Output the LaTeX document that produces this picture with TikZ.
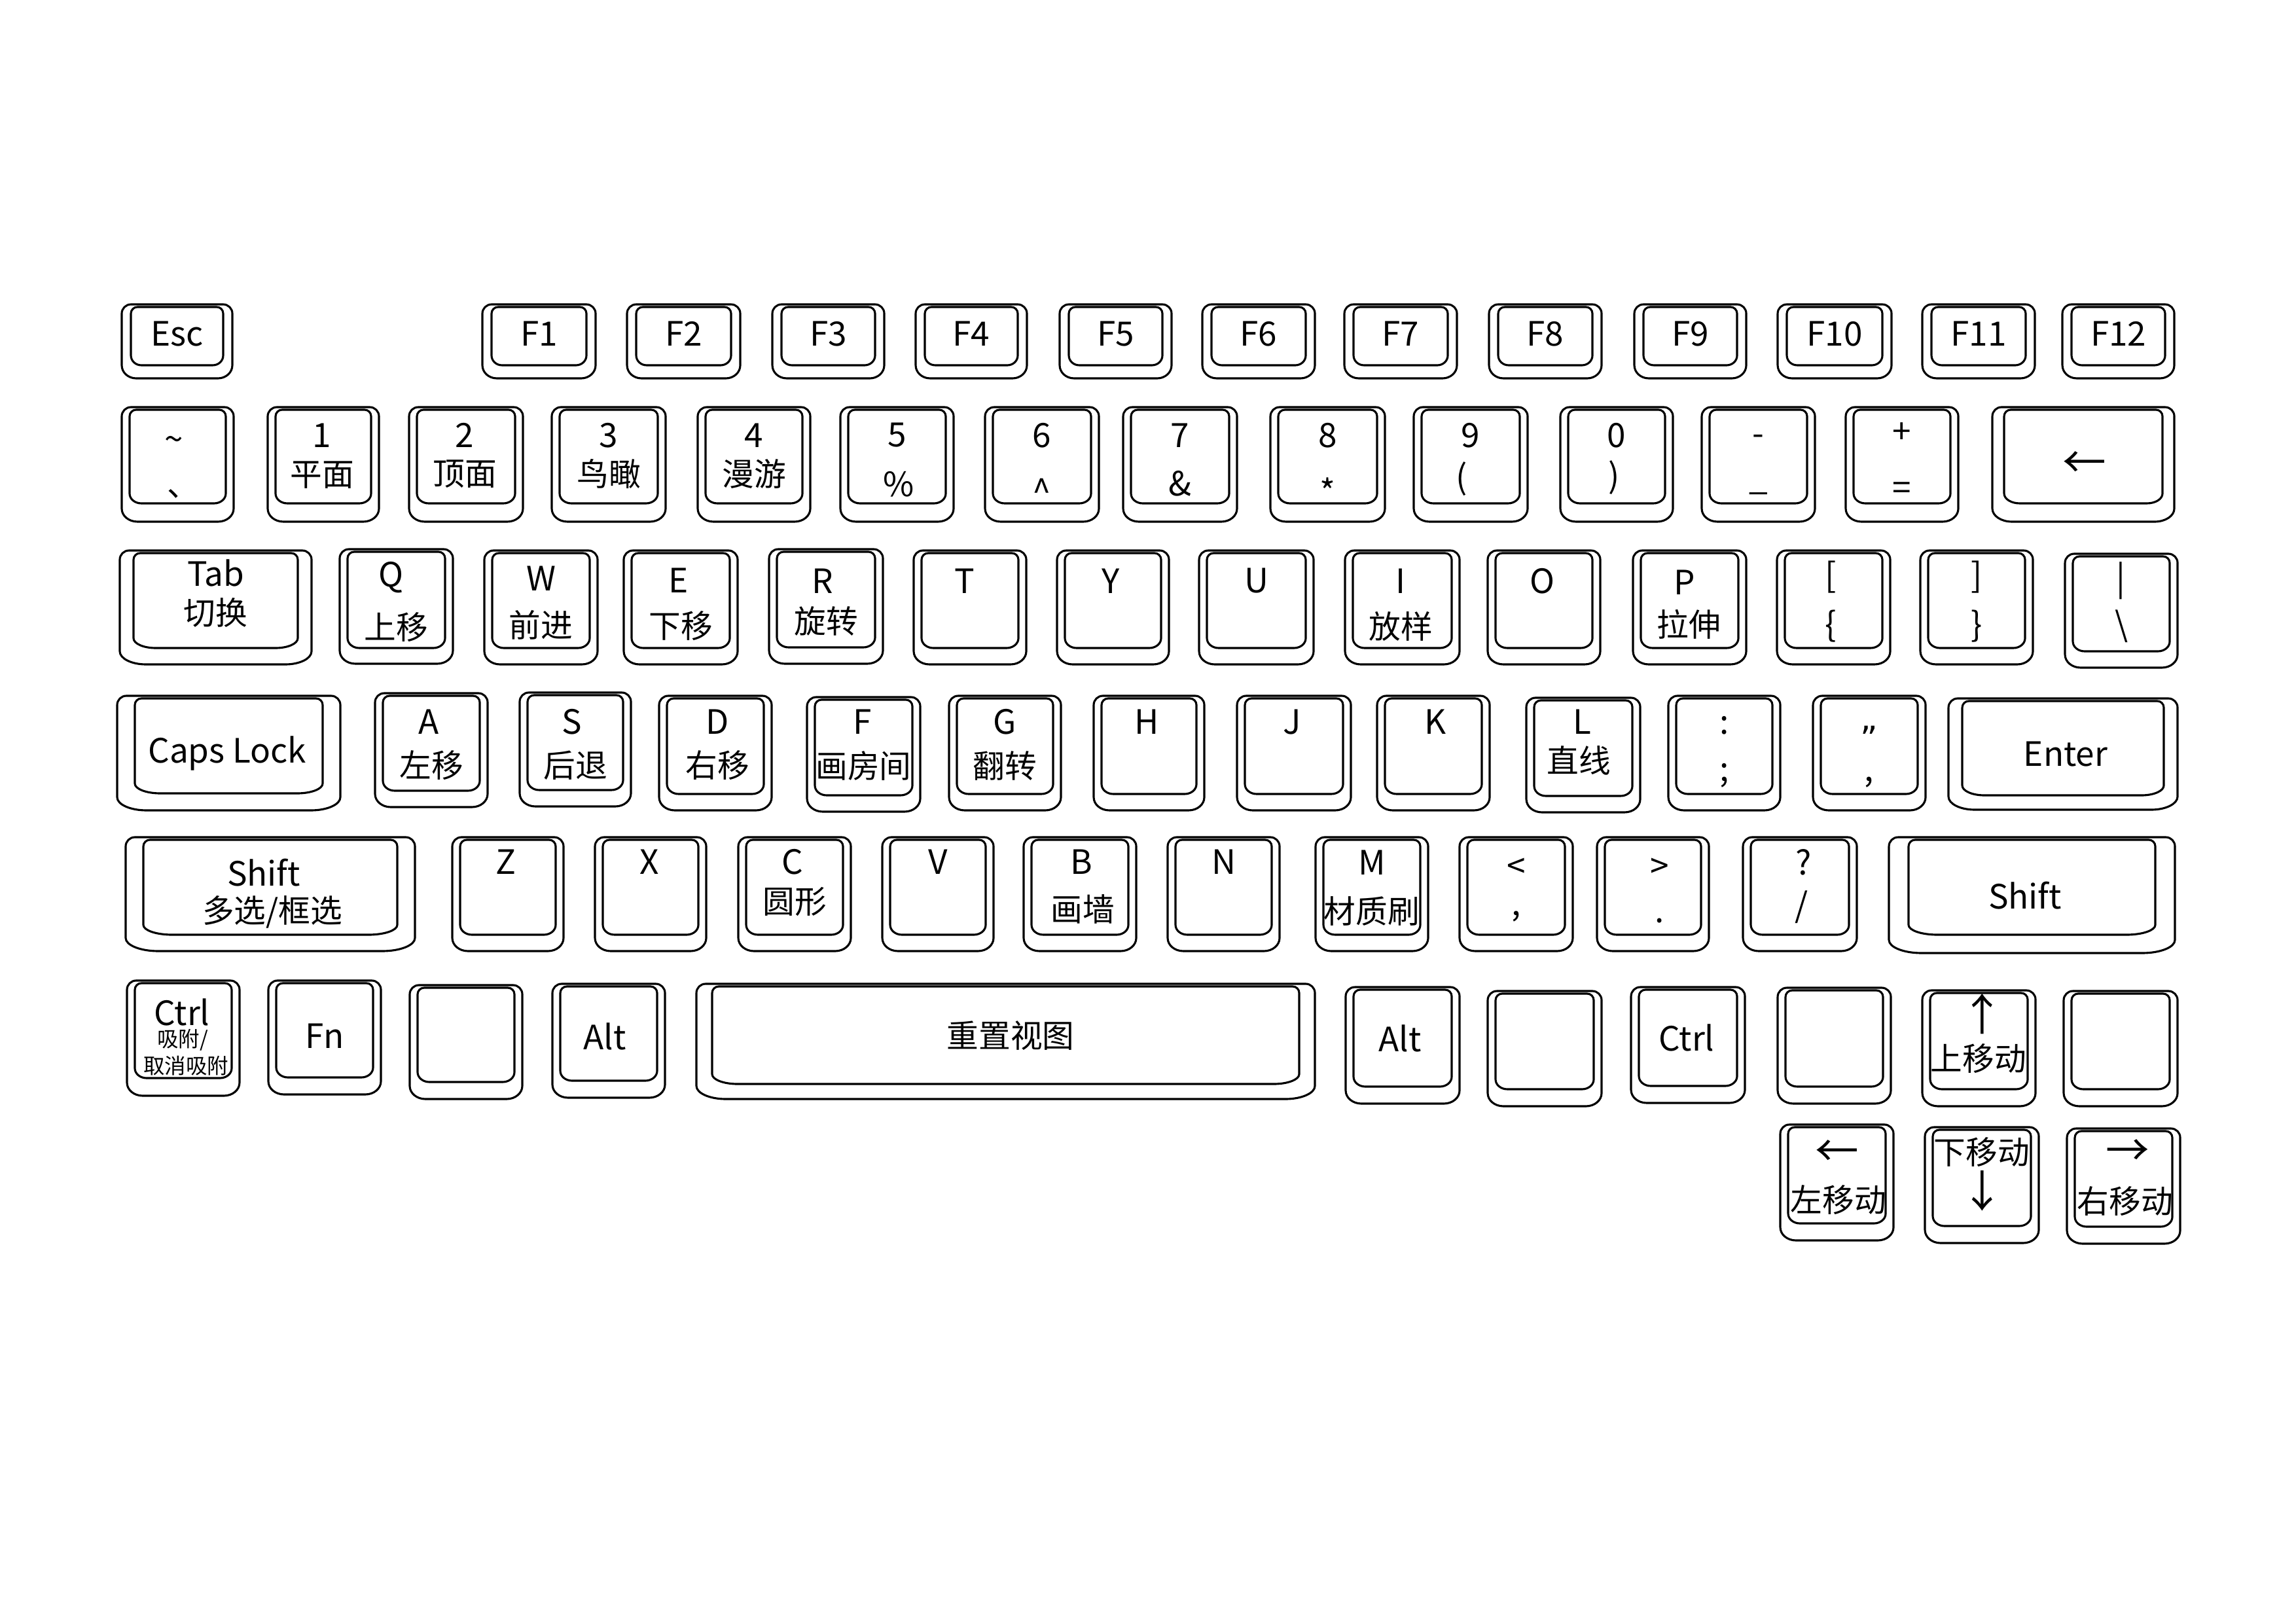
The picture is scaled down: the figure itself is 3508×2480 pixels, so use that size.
\documentclass[tikz,border=0pt]{standalone}
\usepackage{fontspec}
\setmainfont{Noto Sans CJK SC}
\newfontfamily\quotefont{DejaVu Sans}
% #1 x1, #2 y1, #3 x2, #4 y2 (pixels, y downward), #5 side inset, #6 bottom inset, #7 bottom x-radius
\newcommand\kbkey[7]{%
  \draw[keyline] ({#1+14},{-(#2)}) -- ({#3-14},{-(#2)})
    arc[start angle=90,end angle=0,radius=14]
    -- ({#3},{-(#4)+20})
    arc[start angle=0,end angle=-90,x radius=#7,y radius=20]
    -- ({#1+#7},{-(#4)})
    arc[start angle=270,end angle=180,x radius=#7,y radius=20]
    -- ({#1},{-(#2)-14})
    arc[start angle=180,end angle=90,radius=14] -- cycle;
  \draw[keyline] ({#1+#5+10},{-(#2)-4}) -- ({#3-#5-10},{-(#2)-4})
    arc[start angle=90,end angle=0,radius=10]
    -- ({#3-#5},{-(#4)+#6+15})
    arc[start angle=0,end angle=-90,x radius=#7-6,y radius=15]
    -- ({#1+#5+#7-6},{-(#4)+#6})
    arc[start angle=270,end angle=180,x radius=#7-6,y radius=15]
    -- ({#1+#5},{-(#2)-14})
    arc[start angle=180,end angle=90,radius=10] -- cycle;
}
\newcommand\lab[5]{\node[#2] (#1) at (#3,{-(#4)}) {#5};}
\begin{document}
\begin{tikzpicture}[x=0.24019pt,y=0.24019pt,
  keyline/.style={draw=black,line width=0.75pt,fill=white,line join=round},
  lat/.style={font=\fontsize{12.3}{14}\selectfont,inner sep=0pt},
  cjk/.style={font=\fontsize{11.7}{14}\selectfont,inner sep=0pt},
  sml/.style={font=\fontsize{7.8}{9}\selectfont,inner sep=0pt},
  arw/.style={font=\fontsize{16}{18}\selectfont,inner sep=0pt}]
\useasboundingbox (0,0) rectangle (3508,-2480);

% ---------- row 0 ----------
\kbkey{186}{465}{355}{578}{14}{20}{22}   \lab{tEsc}{lat}{270.5}{510}{Esc}
\kbkey{737}{465}{910}{578}{14}{20}{22}   \lab{tF1}{lat}{823.5}{510}{F1}
\kbkey{958}{465}{1131}{578}{14}{20}{22}  \lab{tF2}{lat}{1044.5}{510}{F2}
\kbkey{1180}{465}{1351}{578}{14}{20}{22} \lab{tF3}{lat}{1265.5}{510}{F3}
\kbkey{1399}{465}{1569}{578}{14}{20}{22} \lab{tF4}{lat}{1484}{510}{F4}
\kbkey{1619}{465}{1790}{578}{14}{20}{22} \lab{tF5}{lat}{1704.5}{510}{F5}
\kbkey{1837}{465}{2009}{578}{14}{20}{22} \lab{tF6}{lat}{1923}{510}{F6}
\kbkey{2054}{465}{2226}{578}{14}{20}{22} \lab{tF7}{lat}{2140}{510}{F7}
\kbkey{2275}{465}{2447}{578}{14}{20}{22} \lab{tF8}{lat}{2361}{510}{F8}
\kbkey{2497}{465}{2668}{578}{14}{20}{22} \lab{tF9}{lat}{2582.5}{510}{F9}
\kbkey{2716}{465}{2890}{578}{14}{20}{22} \lab{tF10}{lat}{2803}{510}{F10}
\kbkey{2937}{465}{3109}{578}{14}{20}{22} \lab{tF11}{lat}{3023}{510}{F11}
\kbkey{3151}{465}{3322}{578}{14}{20}{22} \lab{tF12}{lat}{3236.5}{510}{F12}

% ---------- row 1 ----------
\kbkey{186}{622}{357}{797}{12}{28}{24}
\lab{tTa}{lat}{266}{678}{\textasciitilde} \lab{tTb}{cjk}{280}{754}{、}
\kbkey{409}{622}{579}{797}{12}{28}{24}
\lab{t1a}{lat}{492}{665}{1} \lab{t1b}{cjk}{492}{726}{平面}
\kbkey{625}{622}{799}{797}{12}{28}{24}
\lab{t2a}{lat}{710}{665}{2} \lab{t2b}{cjk}{710}{724}{顶面}
\kbkey{843}{622}{1017}{797}{12}{28}{24}
\lab{t3a}{lat}{930}{665}{3} \lab{t3b}{cjk}{930}{724}{鸟瞰}
\kbkey{1066}{622}{1238}{797}{12}{28}{24}
\lab{t4a}{lat}{1152}{665}{4} \lab{t4b}{cjk}{1152}{724}{漫游}
\kbkey{1284}{622}{1457}{797}{12}{28}{24}
\lab{t5a}{lat}{1370.5}{665}{5} \lab{t5b}{lat}{1373}{740}{\%}
\kbkey{1505}{622}{1679}{797}{12}{28}{24}
\lab{t6a}{lat}{1592}{665}{6} \lab{t6b}{lat}{1592}{750}{\textasciicircum}
\kbkey{1716}{622}{1890}{797}{12}{28}{24}
\lab{t7a}{lat}{1803}{665}{7} \lab{t7b}{lat}{1803}{739}{\&}
\kbkey{1941}{622}{2116}{797}{12}{28}{24}
\lab{t8a}{lat}{2028.5}{665}{8} \lab{t8b}{lat}{2028.5}{750}{*}
\kbkey{2160}{622}{2334}{797}{12}{28}{24}
\lab{t9a}{lat}{2247}{665}{9} \lab{t9b}{lat}{2233}{732}{(}
\kbkey{2384}{622}{2556}{797}{12}{28}{24}
\lab{t0a}{lat}{2470}{665}{0} \lab{t0b}{lat}{2466}{730}{)}
\kbkey{2600}{622}{2773}{797}{12}{28}{24}
\lab{tMa}{lat}{2686.5}{672}{-} \lab{tMb}{lat}{2686.5}{752}{\_}
\kbkey{2820}{622}{2992}{797}{12}{28}{24}
\lab{tPa}{lat}{2906}{662}{+} \lab{tPb}{lat}{2906}{750}{=}
\kbkey{3044}{622}{3322}{797}{18}{28}{30}
\lab{tBk}{arw}{3185}{710}{←}

% ---------- row 2 ----------
\kbkey{183}{841}{476}{1015}{21}{25}{40}
\lab{tTab}{lat}{329.5}{875}{Tab} \lab{tTabb}{cjk}{329.5}{936}{切换}
\kbkey{519}{839}{692}{1014}{12}{24}{24}
\lab{tQ}{lat}{597}{882}{Q} \lab{tQb}{cjk}{605.5}{958}{上移}
\kbkey{740}{841}{913}{1015}{12}{25}{24}
\lab{tW}{lat}{826.5}{884}{W} \lab{tWb}{cjk}{826.5}{955}{前进}
\kbkey{953}{841}{1127}{1015}{12}{25}{24}
\lab{tE}{lat}{1037}{887}{E} \lab{tEb}{cjk}{1040}{956}{下移}
\kbkey{1175}{839}{1349}{1014}{12}{25}{24}
\lab{tR}{lat}{1257}{888}{R} \lab{tRb}{cjk}{1262}{949}{旋转}
\kbkey{1396}{841}{1568}{1015}{12}{25}{24} \lab{tT}{lat}{1474}{888}{T}
\kbkey{1615}{841}{1786}{1015}{12}{25}{24} \lab{tY}{lat}{1697}{888}{Y}
\kbkey{1832}{841}{2007}{1015}{12}{25}{24} \lab{tU}{lat}{1919.5}{887}{U}
\kbkey{2055}{841}{2230}{1015}{12}{25}{24}
\lab{tI}{lat}{2140}{888}{I} \lab{tIb}{cjk}{2140}{957}{放样}
\kbkey{2273}{841}{2445}{1015}{12}{25}{24} \lab{tO}{lat}{2356}{888}{O}
\kbkey{2495}{841}{2668}{1015}{12}{25}{24}
\lab{tP}{lat}{2574}{890}{P} \lab{tPbb}{cjk}{2580}{954}{拉伸}
\kbkey{2715}{841}{2888}{1015}{12}{25}{24}
\lab{tLb}{lat}{2797}{882}{[} \lab{tLbb}{lat}{2797}{957}{\{}
\kbkey{2934}{841}{3106}{1015}{12}{25}{24}
\lab{tRbk}{lat}{3020}{882}{]} \lab{tRbkb}{lat}{3020}{957}{\}}
\kbkey{3155}{846}{3327}{1020}{12}{25}{24}
\lab{tBar}{lat}{3240}{887}{|} \lab{tBs}{lat}{3241}{957}{\textbackslash}

% ---------- row 3 ----------
\kbkey{179}{1063}{520}{1238}{27}{26}{45}
\node[lat,anchor=base] (tCaps) at (347,-1165) {Caps Lock};
\kbkey{573}{1059}{745}{1233}{12}{25}{24}
\lab{tA}{lat}{655}{1103}{A} \lab{tAb}{cjk}{659}{1169}{左移}
\kbkey{794}{1058}{964}{1232}{12}{25}{24}
\lab{tS}{lat}{874}{1103}{S} \lab{tSb}{cjk}{879}{1169}{后退}
\kbkey{1007}{1063}{1179}{1238}{12}{25}{24}
\lab{tD}{lat}{1096}{1103}{D} \lab{tDb}{cjk}{1096}{1169}{右移}
\kbkey{1233}{1065}{1406}{1240}{12}{25}{24}
\lab{tF}{lat}{1318}{1103}{F} \lab{tFb}{cjk}{1319.5}{1170}{画房间}
\kbkey{1450}{1063}{1621}{1238}{12}{25}{24}
\lab{tG}{lat}{1535.5}{1103}{G} \lab{tGb}{cjk}{1535.5}{1170}{翻转}
\kbkey{1671}{1063}{1840}{1238}{12}{25}{24} \lab{tH}{lat}{1752}{1103}{H}
\kbkey{1890}{1063}{2064}{1238}{12}{25}{24} \lab{tJ}{lat}{1974}{1103}{J}
\kbkey{2104}{1063}{2276}{1238}{12}{25}{24} \lab{tK}{lat}{2193}{1103}{K}
\kbkey{2332}{1066}{2506}{1241}{12}{25}{24}
\lab{tL}{lat}{2417}{1103}{L} \lab{tLbx}{cjk}{2412}{1162}{直线}
\kbkey{2549}{1063}{2720}{1238}{12}{25}{24}
\lab{tCol}{lat}{2634.5}{1108}{:} \lab{tSemi}{lat}{2634.5}{1185}{;}
\kbkey{2770}{1063}{2942}{1238}{12}{25}{24}
\lab{tQuo}{lat}{2856}{1115}{\quotefont „} \lab{tApo}{lat}{2856}{1195}{,}
\kbkey{2977}{1067}{3327}{1237}{21}{22}{40}
\lab{tEnter}{lat}{3156}{1152}{Enter}

% ---------- row 4 ----------
\kbkey{192}{1279}{634}{1453}{27}{25}{50}
\lab{tLSh}{lat}{403}{1333}{Shift} \lab{tLShb}{cjk}{416}{1393}{多选/框选}
\kbkey{691}{1279}{861}{1453}{12}{25}{24} \lab{tZ}{lat}{773}{1317}{Z}
\kbkey{909}{1279}{1079}{1453}{12}{25}{24} \lab{tX}{lat}{992}{1317}{X}
\kbkey{1128}{1279}{1300}{1453}{12}{25}{24}
\lab{tC}{lat}{1211}{1317}{C} \lab{tCb}{cjk}{1214}{1378}{圆形}
\kbkey{1348}{1279}{1518}{1453}{12}{25}{24} \lab{tV}{lat}{1433}{1317}{V}
\kbkey{1564}{1279}{1736}{1453}{12}{25}{24}
\lab{tB}{lat}{1652}{1317}{B} \lab{tBb}{cjk}{1654}{1389}{画墙}
\kbkey{1784}{1279}{1955}{1453}{12}{25}{24} \lab{tN}{lat}{1869.5}{1317}{N}
\kbkey{2010}{1279}{2182}{1453}{12}{25}{24}
\lab{tM}{lat}{2096}{1318}{M} \lab{tMbb}{cjk}{2096}{1392}{材质刷}
\kbkey{2230}{1279}{2403}{1453}{12}{25}{24}
\lab{tLt}{lat}{2316.5}{1326}{<} \lab{tCom}{lat}{2316.5}{1400}{,}
\kbkey{2440}{1279}{2611}{1453}{12}{25}{24}
\lab{tGt}{lat}{2536}{1326}{>} \lab{tDot}{lat}{2536}{1407}{.}
\kbkey{2663}{1279}{2837}{1453}{12}{25}{24}
\lab{tQm}{lat}{2756}{1317}{?} \lab{tSl}{lat}{2752}{1386}{/}
\kbkey{2886}{1279}{3323}{1456}{30}{28}{50}
\lab{tRSh}{lat}{3094}{1368}{Shift}

% ---------- row 5 ----------
\kbkey{194}{1498}{366}{1674}{12}{27}{24}
\lab{tLCtrl}{lat}{278}{1546}{Ctrl}
\lab{tLCtrlb}{sml}{279}{1589}{吸附/} \lab{tLCtrlc}{sml}{284}{1628}{取消吸附}
\kbkey{410}{1498}{582}{1672}{12}{26}{24} \lab{tFn}{lat}{496}{1583}{Fn}
\kbkey{626}{1505}{798}{1679}{12}{26}{24}
\kbkey{844}{1503}{1016}{1677}{12}{26}{24} \lab{tLAlt}{lat}{924}{1583}{Alt}
\kbkey{1064}{1503}{2009}{1679}{24}{23}{45}
\lab{tSpace}{cjk}{1544}{1582}{重置视图}
\kbkey{2056}{1508}{2230}{1686}{12}{26}{24} \lab{tRAlt}{lat}{2139}{1586}{Alt}
\kbkey{2273}{1514}{2447}{1690}{12}{26}{24}
\kbkey{2492}{1508}{2666}{1685}{12}{26}{24} \lab{tRCtrl}{lat}{2577}{1585}{Ctrl}
\kbkey{2716}{1509}{2889}{1686}{12}{26}{24}
\kbkey{2937}{1513}{3110}{1690}{12}{26}{24}
\lab{tUp}{arw}{3029}{1549}{↑} \lab{tUpb}{cjk}{3023}{1617}{上移动}
\kbkey{3153}{1514}{3327}{1690}{12}{26}{24}

% ---------- row 6 ----------
\kbkey{2720}{1718}{2893}{1895}{12}{26}{24}
\lab{tLeft}{arw}{2807}{1762}{←} \lab{tLeftb}{cjk}{2809}{1833}{左移动}
\kbkey{2941}{1722}{3115}{1899}{12}{26}{24}
\lab{tDownb}{cjk}{3028}{1760}{下移动} \lab{tDown}{arw}{3029}{1819}{↓}
\kbkey{3158}{1724}{3331}{1900}{12}{26}{24}
\lab{tRight}{arw}{3251}{1761}{→} \lab{tRightb}{cjk}{3247}{1835}{右移动}
\end{tikzpicture}
\end{document}
